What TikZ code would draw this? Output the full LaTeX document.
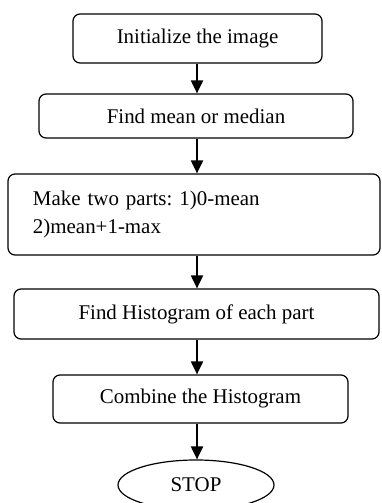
\documentclass[tikz,border=0pt]{standalone}
\usepackage{fontspec}
\setmainfont{Liberation Serif}
\usepackage{tikz}
\usetikzlibrary{arrows.meta,shapes.geometric}
\definecolor{framecolor}{RGB}{0,0,0}

\begin{document}
\begin{tikzpicture}[x=1bp,y=1bp,
    procbox/.style={draw=framecolor,rounded corners=7bp,line width=1.2bp,inner sep=0pt,
        font=\fontsize{21}{28}\selectfont\frenchspacing},
    endoval/.style={draw=framecolor,ellipse,line width=1.2bp,inner sep=0pt,
        font=\fontsize{21}{28}\selectfont},
    flow/.style={-{Triangle[length=13bp,width=12bp]},line width=2bp}]
    % Page
    \clip (0,0) rectangle (381,503);
    \useasboundingbox (0,0) rectangle (381,503);

    % Steps
    \node[procbox,minimum width=249bp,minimum height=49bp] (init) at (197.5,464.5) {Initialize the image};
    \node[procbox,minimum width=314bp,minimum height=44bp] (mean) at (196,387) {Find mean or median};
    \node[procbox,text width=322bp,inner xsep=25bp,minimum height=81bp,align=left] (parts) at (194,288.5)
        {Make two parts: 1)0-mean\\2)mean+1-max};
    \node[procbox,minimum width=365bp,minimum height=50bp] (hist) at (196.5,189) {Find Histogram of each part};
    \node[procbox,minimum width=295bp,minimum height=48bp] (comb) at (200.5,104) {Combine the Histogram};
    \node[endoval,minimum width=156bp,minimum height=50bp] (stop) at (196,18) {STOP};

    % Arrows
    \coordinate (axis) at (197,0);
    \draw[flow] (axis |- init.south) -- (axis |- mean.north);
    \draw[flow] (axis |- mean.south) -- (axis |- parts.north);
    \draw[flow] (axis |- parts.south) -- (axis |- hist.north);
    \draw[flow] (axis |- hist.south) -- (axis |- comb.north);
    \draw[flow] (axis |- comb.south) -- (axis |- stop.north);
\end{tikzpicture}
\end{document}
